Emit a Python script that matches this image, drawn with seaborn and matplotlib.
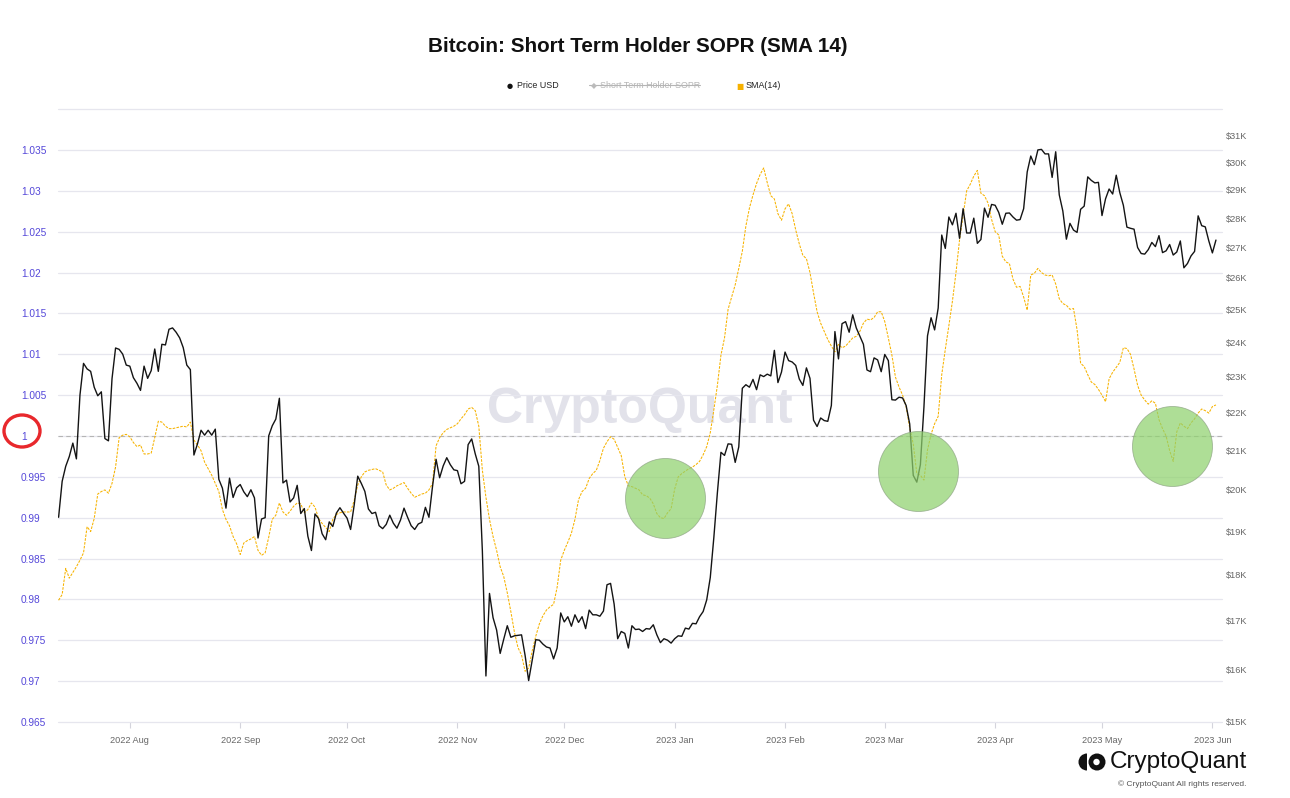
import numpy as np
import pandas as pd
import matplotlib
matplotlib.use("Agg")
import matplotlib.pyplot as plt
from matplotlib.patches import Ellipse, Circle, Wedge
from matplotlib.lines import Line2D
from matplotlib.ticker import FixedLocator, FixedFormatter, NullLocator
import seaborn as sns

# ---------------- data ----------------
start_date = "2022-07-12"

price_usd_k = [
    # Jul 12-31 2022
    19.33, 20.21, 20.59, 20.84, 21.19, 20.78, 22.49, 23.39, 23.23, 23.16,
    22.71, 22.47, 22.58, 21.31, 21.25, 22.95, 23.84, 23.80, 23.66, 23.34,
    # Aug
    23.31, 22.98, 22.82, 22.62, 23.31, 22.96, 23.18, 23.81, 23.16, 23.95,
    23.93, 24.40, 24.44, 24.31, 24.14, 23.85, 23.34, 23.21, 20.88, 21.17,
    21.53, 21.40, 21.53, 21.40, 21.56, 20.26, 20.04, 19.55, 20.29, 19.81, 20.05,
    # Sep
    20.13, 19.95, 19.83, 20.00, 19.80, 18.84, 19.29, 19.32, 21.38, 21.65,
    21.83, 22.40, 20.17, 20.24, 19.70, 19.80, 20.11, 19.42, 19.54, 18.88,
    18.55, 19.41, 19.30, 18.94, 18.80, 19.22, 19.11, 19.43, 19.56, 19.43,
    # Oct
    19.31, 19.04, 19.62, 20.34, 20.16, 19.96, 19.53, 19.42, 19.45, 19.13,
    19.06, 19.16, 19.38, 19.19, 19.07, 19.26, 19.55, 19.33, 19.13, 19.04,
    19.17, 19.21, 19.57, 19.33, 20.08, 20.77, 20.30, 20.60, 20.81, 20.63, 20.50,
    # Nov
    20.48, 20.15, 20.21, 21.15, 21.30, 20.91, 20.59, 18.54, 15.88, 17.59,
    17.07, 16.81, 16.33, 16.62, 16.90, 16.66, 16.69, 16.70, 16.71, 16.29,
    15.79, 16.19, 16.61, 16.60, 16.52, 16.46, 16.44, 16.22, 16.44, 17.17,
    # Dec
    16.98, 17.09, 16.89, 17.13, 16.97, 17.09, 16.84, 17.23, 17.13, 17.13,
    17.10, 17.21, 17.78, 17.81, 17.36, 16.63, 16.78, 16.74, 16.44, 16.90,
    16.82, 16.83, 16.78, 16.84, 16.83, 16.92, 16.71, 16.55, 16.63, 16.60, 16.54,
    # Jan 2023
    16.63, 16.69, 16.68, 16.85, 16.83, 16.95, 16.94, 17.09, 17.20, 17.45,
    17.94, 18.85, 19.93, 20.95, 20.87, 21.17, 21.16, 20.69, 21.09, 22.68,
    22.78, 22.71, 22.93, 22.64, 23.06, 23.01, 23.08, 23.03, 23.77, 22.84, 23.14,
    # Feb
    23.72, 23.47, 23.43, 23.33, 22.94, 22.76, 23.26, 22.96, 21.80, 21.63,
    21.86, 21.79, 21.77, 22.20, 24.33, 23.52, 24.57, 24.63, 24.31, 24.84,
    24.44, 24.19, 23.95, 23.20, 23.15, 23.55, 23.49, 23.15,
    # Mar
    23.65, 23.47, 22.36, 22.35, 22.43, 22.41, 22.20, 21.70, 20.36, 20.19,
    20.63, 22.16, 24.20, 24.75, 24.38, 25.05, 27.42, 26.97, 28.04, 27.77,
    28.17, 27.31, 28.33, 27.49, 27.49, 28.00, 27.14, 27.27, 28.35, 28.03, 28.48,
    # Apr
    28.45, 28.20, 27.79, 28.17, 28.18, 28.04, 27.93, 27.95, 28.33, 29.65,
    30.24, 29.92, 30.47, 30.49, 30.32, 30.32, 29.45, 30.40, 28.82, 28.25,
    27.28, 27.82, 27.59, 27.51, 28.31, 28.42, 29.47, 29.34, 29.25, 29.27,
    # May
    28.09, 28.68, 29.03, 28.85, 29.53, 28.90, 28.45, 27.69, 27.65, 27.62,
    27.00, 26.80, 26.78, 26.93, 27.17, 27.03, 27.40, 26.83, 26.89, 27.10,
    26.75, 26.85, 27.22, 26.33, 26.47, 26.72, 26.87, 28.08, 27.74, 27.70, 27.22,
    # Jun
    26.82, 27.25,
]

sma14 = [
    0.9799, 0.9806, 0.9838, 0.9826, 0.9833, 0.9840, 0.9848, 0.9857, 0.9889, 0.9883,
    0.9899, 0.9929, 0.9932, 0.9934, 0.9930, 0.9942, 0.9962, 0.9998, 1.0001, 1.0002,
    0.9999, 0.9992, 0.9987, 0.9989, 0.9978, 0.9978, 0.9979, 0.9998, 1.0018, 1.0017,
    1.0012, 1.0009, 1.0009, 1.0010, 1.0011, 1.0012, 1.0011, 1.0017, 0.9995, 0.9989,
    0.9982, 0.9968, 0.9960, 0.9952, 0.9942, 0.9932, 0.9910, 0.9898, 0.9890, 0.9877,
    0.9868, 0.9855, 0.9869, 0.9872, 0.9874, 0.9877, 0.9860, 0.9854, 0.9857, 0.9876,
    0.9898, 0.9903, 0.9918, 0.9907, 0.9903, 0.9908, 0.9914, 0.9918, 0.9917, 0.9906,
    0.9910, 0.9918, 0.9913, 0.9899, 0.9893, 0.9888, 0.9883, 0.9898, 0.9904, 0.9906,
    0.9907, 0.9907, 0.9907, 0.9921, 0.9940, 0.9950, 0.9956, 0.9958, 0.9959, 0.9960,
    0.9958, 0.9956, 0.9940, 0.9934, 0.9936, 0.9939, 0.9941, 0.9943, 0.9936, 0.9930,
    0.9925, 0.9927, 0.9929, 0.9930, 0.9934, 0.9942, 0.9988, 0.9998, 1.0004, 1.0008,
    1.0010,
    1.0012, 1.0015, 1.0021, 1.0026, 1.0033, 1.0035, 1.0031, 1.0012,
    0.9958, 0.9925, 0.9898, 0.9877, 0.9860, 0.9840, 0.9828, 0.9808, 0.9785, 0.9760,
    0.9741, 0.9732, 0.9712, 0.9716, 0.9737, 0.9755, 0.9770, 0.9780, 0.9787, 0.9791,
    0.9794, 0.9815, 0.9848, 0.9860, 0.9870, 0.9881, 0.9898, 0.9922, 0.9932, 0.9936,
    0.9948, 0.9954, 0.9958, 0.9970, 0.9985, 0.9993, 0.9999, 0.9996, 0.9986, 0.9976,
    0.9950, 0.9939, 0.9938, 0.9936, 0.9934, 0.9928, 0.9927, 0.9924, 0.9917, 0.9905,
    0.9900, 0.9899, 0.9906, 0.9911, 0.9935, 0.9950, 0.9954, 0.9957, 0.9960, 0.9962,
    0.9965, 0.9969, 0.9977, 0.9987, 1.0004, 1.0032, 1.0062, 1.0099, 1.0120, 1.0155,
    1.0170, 1.0185, 1.0205, 1.0226, 1.0257, 1.0279, 1.0295, 1.0309, 1.0320, 1.0328,
    1.0310, 1.0294, 1.0290, 1.0272, 1.0264, 1.0278, 1.0284, 1.0272, 1.0252, 1.0235,
    1.0221, 1.0217, 1.0200, 1.0175, 1.0152, 1.0138, 1.0128, 1.0118, 1.0110, 1.0103,
    1.0112, 1.0108, 1.0110, 1.0115, 1.0120, 1.0122, 1.0128, 1.0138, 1.0143, 1.0142,
    1.0145, 1.0152, 1.0152, 1.0140, 1.0120, 1.0099, 1.0072, 1.0060, 1.0050, 1.0036,
    1.0010, 0.9990, 0.9954, 0.9952, 0.9946, 0.9983, 1.0002, 1.0015, 1.0024, 1.0075,
    1.0106, 1.0135, 1.0165, 1.0200, 1.0240, 1.0270, 1.0300, 1.0308, 1.0318, 1.0325,
    1.0297, 1.0294, 1.0285, 1.0265, 1.0250, 1.0246, 1.0220, 1.0213, 1.0211, 1.0192,
    1.0182, 1.0183, 1.0170, 1.0154, 1.0197, 1.0199, 1.0205, 1.0200, 1.0197, 1.0196,
    1.0197, 1.0186, 1.0168, 1.0162, 1.0160, 1.0155, 1.0156, 1.0130, 1.0089, 1.0085,
    1.0075, 1.0066, 1.0063, 1.0057, 1.0050, 1.0042, 1.0070, 1.0078, 1.0084, 1.0090,
    1.0108, 1.0107, 1.0100, 1.0082, 1.0062, 1.0050, 1.0044, 1.0039, 1.0043, 1.0040,
    1.0020, 1.0009, 1.0000, 0.9982, 0.9969, 1.0005, 1.0016, 1.0012, 1.0009, 1.0016,
    1.0021, 1.0028, 1.0033, 1.0031, 1.0028, 1.0036, 1.0038,
]

left_ticks = [0.965, 0.97, 0.975, 0.98, 0.985, 0.99, 0.995, 1.0,
              1.005, 1.01, 1.015, 1.02, 1.025, 1.03, 1.035, 1.04]
left_labels = ["0.965", "0.97", "0.975", "0.98", "0.985", "0.99", "0.995", "1",
               "1.005", "1.01", "1.015", "1.02", "1.025", "1.03", "1.035", ""]
right_ticks = [15, 16, 17, 18, 19, 20, 21, 22, 23, 24, 25, 26, 27, 28, 29, 30, 31]
right_labels = ["$%dK" % v for v in right_ticks]
month_ticks = pd.date_range("2022-08-01", "2023-06-01", freq="MS")
month_labels = [d.strftime("%Y %b") for d in month_ticks]

# highlighted zones (date offset in days from start, SOPR level)
highlight_days = [170.3, 241.4, 312.7]
highlight_levels = [0.9924, 0.9957, 0.9988]

n = min(len(price_usd_k), len(sma14))
dates = pd.date_range(start_date, periods=n, freq="D")
df = pd.DataFrame({"date": dates, "price": price_usd_k[:n], "sma": sma14[:n]})

# ---------------- style ----------------
sns.set_theme(style="white")
plt.rcParams["font.family"] = ["Liberation Sans", "DejaVu Sans"]

W, H = 1290, 798
fig = plt.figure(figsize=(W / 100, H / 100), dpi=100)
fig.patch.set_facecolor("white")

ax_l, ax_r, ax_t, ax_b = 58.3, 1222.0, 109.1, 722.0
ax = fig.add_axes([ax_l / W, 1 - ax_b / H, (ax_r - ax_l) / W, (ax_b - ax_t) / H])
ax2 = ax.twinx()

# watermark
ax.text(0.5, 0.509, "CryptoQuant", transform=ax.transAxes, ha="center", va="center",
        fontsize=36, fontweight="bold", color="#e2e2ea", zorder=0.5,
        family=["Liberation Sans", "DejaVu Sans"])

# SMA line (left axis)
sns.lineplot(data=df, x="date", y="sma", ax=ax, color="#f7b300", linewidth=0.75,
             zorder=3)
ax.lines[-1].set_dashes((2.5, 1.2))

ax.axhline(1.0, color="#b5b5b5", linestyle=(0, (4, 3)), linewidth=0.8, zorder=1)

ax.set_ylim(0.965, 1.04)
ax.set_xlim(dates[0] - pd.Timedelta(hours=2), dates[0] + pd.Timedelta(days=326.7))
ax.yaxis.set_major_locator(FixedLocator(left_ticks))
ax.yaxis.set_major_formatter(FixedFormatter(left_labels))
ax.grid(axis="y", color="#e6e6ee", linewidth=0.9)
ax.grid(axis="x", visible=False)
for gl in ax.yaxis.get_gridlines():
    gl.set_clip_on(False)
ax.set_axisbelow(True)
ax.tick_params(axis="y", length=0, pad=26.9, labelsize=7.3, labelcolor="#5548d9")
for lbl in ax.get_yticklabels():
    lbl.set_horizontalalignment("left")

ax.set_xticks(month_ticks)
ax.set_xticklabels(month_labels)
ax.tick_params(axis="x", length=4, width=0.8, color="#d4d4dc", pad=6,
               labelsize=6.6, labelcolor="#666666", bottom=True)
ax.set_xlabel("")
ax.set_ylabel("")

# price line (right axis, log)
sns.lineplot(data=df, x="date", y="price", ax=ax2, color="#141414", linewidth=1.0,
             zorder=3)
ax2.set_yscale("log")
ax2.set_ylim(15, 32.05)
ax2.yaxis.set_major_locator(FixedLocator(right_ticks))
ax2.yaxis.set_major_formatter(FixedFormatter(right_labels))
ax2.yaxis.set_minor_locator(NullLocator())
ax2.tick_params(axis="y", length=0, pad=3, labelsize=6.6, labelcolor="#666666")
ax2.grid(False)
ax2.set_ylabel("")
ax2.set_xlabel("")

for a in (ax, ax2):
    for s in a.spines.values():
        s.set_visible(False)

# green highlight circles, placed in SOPR/date coordinates
hx = [dates[0] + pd.Timedelta(days=d) for d in highlight_days]
ax2.scatter(hx, highlight_levels, s=(2 * 40 * 0.72) ** 2, marker="o",
            facecolor="#8fd26e", edgecolor="#8aa080", linewidth=0.6, alpha=0.72,
            transform=ax.transData, zorder=5)

# ---------------- overlay decorations (pixel coordinates) ----------------
ov = fig.add_axes([0, 0, 1, 1], zorder=10)
ov.set_xlim(0, W)
ov.set_ylim(H, 0)
ov.axis("off")
ov.patch.set_alpha(0)

ov.text(638, 47, "Bitcoin: Short Term Holder SOPR (SMA 14)", ha="center", va="center",
        fontsize=14.9, fontweight="bold", color="#111111")

# legend
ly = 86
ov.text(510, ly, "\u25CF", ha="center", va="center", fontsize=5, color="#111111",
        family=["DejaVu Sans"])
ov.text(517, ly, "Price USD", ha="left", va="center", fontsize=6.4, color="#222222")
ov.text(594, ly, "\u25C6", ha="center", va="center", fontsize=5.5, color="#bbbbbb",
        family=["DejaVu Sans"])
ov.text(600, ly, "Short Term Holder SOPR", ha="left", va="center", fontsize=6.4,
        color="#b5b5b5")
ov.add_line(Line2D([589, 700], [ly - 0.8, ly - 0.8], color="#b5b5b5", linewidth=0.8))
ov.text(740, ly, "\u25A0", ha="center", va="center", fontsize=5.5, color="#f6b100",
        family=["DejaVu Sans"])
ov.text(746, ly, "SMA(14)", ha="left", va="center", fontsize=6.4, color="#222222")

# red circle around the 1.0 label
ov.add_patch(Ellipse((22, 431), 36, 32, fill=False, edgecolor="#e8282c", linewidth=2.4))

# logo
ov.add_patch(Wedge((1087, 762), 8.5, 90, 270, facecolor="#111111", edgecolor="none"))
ov.add_patch(Circle((1097, 762), 8.5, facecolor="#111111", edgecolor="none"))
ov.add_patch(Circle((1096.5, 762), 3.2, facecolor="white", edgecolor="none"))
ov.text(1247, 762, "CryptoQuant", ha="right", va="center", fontsize=17.5,
        color="#111111")
ov.text(1247, 784, "\u00A9 CryptoQuant All rights reserved.", ha="right", va="center",
        fontsize=6.0, color="#555555")

fig.savefig("out.png", dpi=100, facecolor="white")
